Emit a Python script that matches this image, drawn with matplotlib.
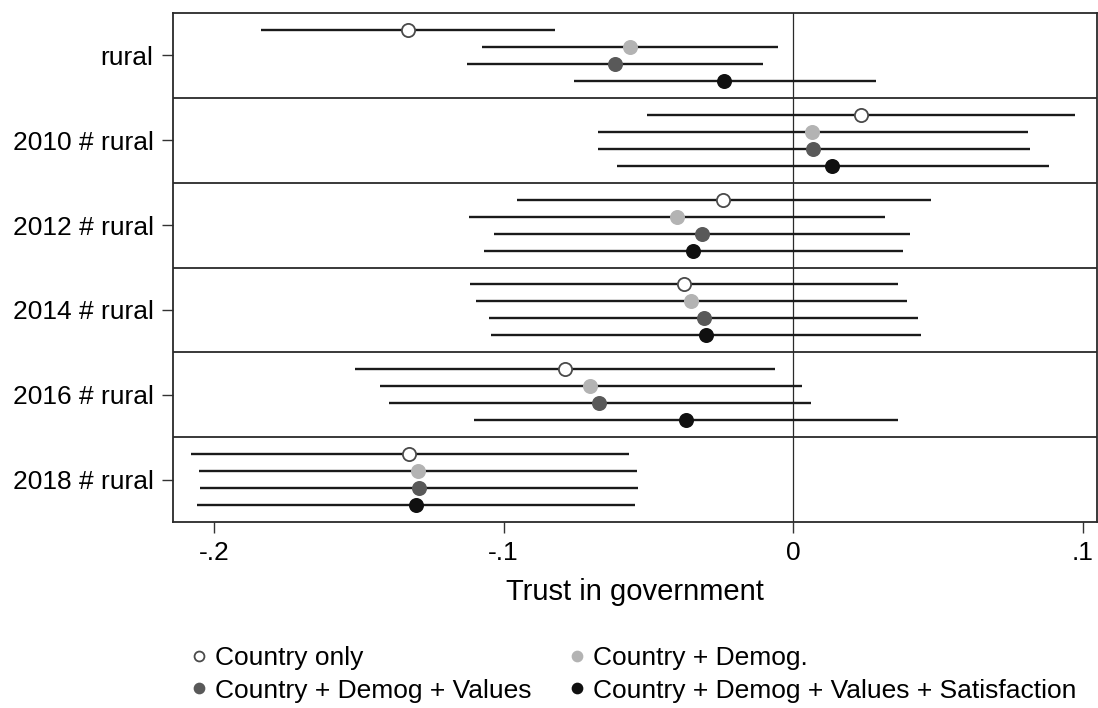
"""Coefficient plot: rural effect on trust in government, by survey year."""

import matplotlib
matplotlib.use("Agg")
import matplotlib.pyplot as plt
import numpy as np

plt.rcParams["font.family"] = ["Liberation Sans", "DejaVu Sans"]

groups = ["rural", "2010 # rural", "2012 # rural", "2014 # rural", "2016 # rural", "2018 # rural"]

models = [
    "Country only",
    "Country + Demog.",
    "Country + Demog + Values",
    "Country + Demog + Values + Satisfaction",
]

est_country = [-0.1330, 0.0235, -0.0241, -0.0378, -0.0787, -0.1326]
lo_country = [-0.1838, -0.0505, -0.0952, -0.1117, -0.1515, -0.2079]
hi_country = [-0.0821, 0.0974, 0.0478, 0.0364, -0.0062, -0.0567]

est_demog = [-0.0564, 0.0065, -0.0402, -0.0354, -0.0701, -0.1296]
lo_demog = [-0.1076, -0.0674, -0.1120, -0.1096, -0.1426, -0.2052]
hi_demog = [-0.0052, 0.0812, 0.0316, 0.0392, 0.0031, -0.0540]

est_values = [-0.0615, 0.0069, -0.0313, -0.0309, -0.0670, -0.1292]
lo_values = [-0.1127, -0.0674, -0.1034, -0.1052, -0.1395, -0.2048]
hi_values = [-0.0103, 0.0819, 0.0405, 0.0433, 0.0062, -0.0536]

est_satis = [-0.0237, 0.0134, -0.0344, -0.0302, -0.0371, -0.1302]
lo_satis = [-0.0756, -0.0608, -0.1069, -0.1045, -0.1103, -0.2058]
hi_satis = [0.0287, 0.0884, 0.0381, 0.0443, 0.0361, -0.0546]

xticks = [-0.2, -0.1, 0.0, 0.1]
xtick_labels = ["-.2", "-.1", "0", ".1"]

series = [
    (est_country, lo_country, hi_country, "white", "#4a4a4a"),
    (est_demog, lo_demog, hi_demog, "#b3b3b3", "#b3b3b3"),
    (est_values, lo_values, hi_values, "#595959", "#595959"),
    (est_satis, lo_satis, hi_satis, "#101010", "#101010"),
]
offsets = [-0.3, -0.1, 0.1, 0.3]

fig = plt.figure(figsize=(10.98, 7.08), dpi=100)
ax = fig.add_axes([173 / 1098, 1 - 522 / 708, (1097 - 173) / 1098, (522 - 13) / 708])

base = np.arange(len(groups))
handles = []
for (est, lo, hi, face, edge), off, label in zip(series, offsets, models):
    y = base + off
    ax.hlines(y, lo, hi, color="#1a1a1a", lw=1.7, zorder=2)
    (h,) = ax.plot(est, y, "o", ms=9.5, mfc=face, mec=edge, mew=1.3,
                   ls="none", zorder=3, label=label)
    handles.append(h)

for b in base[:-1]:
    ax.axhline(b + 0.5, color="#2a2a2a", lw=1.3, zorder=1)
ax.axvline(0, color="#2a2a2a", lw=0.9, zorder=1)

ax.set_ylim(len(groups) - 0.5, -0.5)
ax.set_xlim(-0.2142, 0.105)
ax.set_yticks(base)
ax.set_yticklabels(groups)
ax.set_xticks(xticks)
ax.set_xticklabels(xtick_labels)
ax.tick_params(axis="both", labelsize=19, length=8, width=1.0, pad=6, color="#333333")
for s in ax.spines.values():
    s.set_linewidth(1.3)
    s.set_color("#2a2a2a")
ax.set_xlabel("Trust in government", fontsize=21, labelpad=9)

# legend fills column-wise, so order for row-wise reading
order = [0, 2, 1, 3]
fig.legend(handles=[handles[i] for i in order], labels=[models[i] for i in order],
           ncol=2, loc="upper left",
           bbox_to_anchor=(191 / 1098, 1 - 646 / 708), frameon=False,
           fontsize=19, markerscale=0.75, handlelength=0.6, handletextpad=0.3,
           columnspacing=1.45, labelspacing=0.33, borderpad=0, borderaxespad=0)

fig.savefig("out.png", dpi=100)
